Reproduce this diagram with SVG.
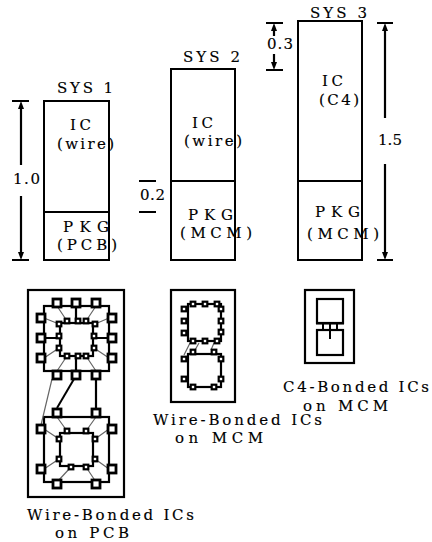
<svg xmlns="http://www.w3.org/2000/svg" xmlns:xlink="http://www.w3.org/1999/xlink" width="432" height="542" viewBox="0 0 432 542">
<style>
text{font-family:"DejaVu Serif","Liberation Serif",serif;font-size:15px;fill:#000;stroke:#000;stroke-width:0.15}
.b{fill:none;stroke:#000;stroke-width:2.2}
.w{fill:none;stroke:#000;stroke-width:2}
.t{fill:none;stroke:#666;stroke-width:1.2}
.k{fill:none;stroke:#000;stroke-width:2.2}
.L{fill:#fff;stroke:#000;stroke-width:2.8}
.S{fill:#fff;stroke:#000;stroke-width:2.2}
</style>
<defs>
<rect id="L" class="L" x="-4" y="-4" width="8" height="8"/>
<rect id="S" class="S" x="-2.300" y="-2.300" width="4.600" height="4.600"/>
</defs>
<g id="sys1">
<rect class="w" x="44" y="101" width="65" height="159"/><path class="w" d="M44 212H109"/>
<text x="57" y="93" textLength="56">SYS 1</text><text x="70" y="130" textLength="21">IC</text><text x="57" y="149" textLength="57">(wire)</text><text x="63" y="232" textLength="46">PKG</text><text x="57" y="250" textLength="60">(PCB)</text>
</g>
<g id="sys2">
<rect class="w" x="171" y="69" width="64" height="191"/><path class="w" d="M171 181H235"/>
<text x="183" y="62" textLength="57">SYS 2</text><text x="192" y="128" textLength="21">IC</text><text x="184" y="146" textLength="58">(wire)</text><text x="188" y="220" textLength="45">PKG</text><text x="180" y="238" textLength="72">(MCM)</text>
</g>
<g id="sys3">
<rect class="w" x="298" y="21" width="64" height="239"/><path class="w" d="M298 181H362"/>
<text x="310" y="18" textLength="57">SYS 3</text><text x="322" y="86" textLength="21">IC</text><text x="319" y="105" textLength="40">(C4)</text><text x="315" y="217" textLength="45">PKG</text><text x="307" y="239" textLength="72">(MCM)</text>
</g>
<g id="connectors">
<path class="k" d="M12 101H29M12 260H29M139 181H156M139 212H156M266 23H283M266 70H283M377 23H393M377 260H393"/>
<path class="k" d="M21 165V108M21 196V253M274 36V30M274 54V63M385 118V30M385 164V253"/>
<path d="M21 101l-3 8h6zM21 260l-3-8h6zM274 23l-3 8h6zM274 70l-3-8h6zM385 23l-3 8h6zM385 260l-3-8h6z" fill="#000"/>
</g>
<g id="dims">
<text x="13" y="184" textLength="27">1.0</text><text x="140" y="200" textLength="25">0.2</text><text x="267" y="49" textLength="26">0.3</text><text x="378" y="145" textLength="24">1.5</text>
</g>
<g id="pcb">
<rect class="b" x="28" y="290" width="96" height="207"/>
<rect class="b" x="44" y="306" width="65" height="65"/><rect class="b" x="60" y="323" width="33" height="33"/>
<rect class="b" x="44" y="417" width="65" height="65"/><rect class="b" x="60" y="433" width="33" height="33"/>
<path class="t" d="M57 306L67 321M96 306L86 321M44 318L59 324M109 318L95 324M44 358L59 348M109 358L94 348M57 371L67 356M96 371L86 356M52 379L41 425"/>
<path class="t" d="M57 417L67 431M96 417L86 431M44 429L59 439M109 429L95 439M44 469L59 459M109 469L95 459M57 482L71 467M96 482L86 467"/>
<path class="k" d="M76 306V320M76 371V357M44 338H58M109 338H94M96 379V408"/>
<path class="w" d="M74 379L57 408"/>
<g id="pcb-large-pads">
<use xlink:href="#L" x="57" y="303"/><use xlink:href="#L" x="76" y="303"/><use xlink:href="#L" x="96" y="303"/>
<use xlink:href="#L" x="41" y="318"/><use xlink:href="#L" x="41" y="338"/><use xlink:href="#L" x="41" y="358"/>
<use xlink:href="#L" x="112" y="318"/><use xlink:href="#L" x="112" y="338"/><use xlink:href="#L" x="112" y="358"/>
<use xlink:href="#L" x="57" y="375"/><use xlink:href="#L" x="76" y="375"/><use xlink:href="#L" x="96" y="375"/>
<use xlink:href="#L" x="57" y="413"/><use xlink:href="#L" x="96" y="413"/>
<use xlink:href="#L" x="41" y="429"/><use xlink:href="#L" x="41" y="469"/>
<use xlink:href="#L" x="112" y="429"/><use xlink:href="#L" x="112" y="469"/>
<use xlink:href="#L" x="57" y="484"/><use xlink:href="#L" x="96" y="484"/>
</g>
<g id="pcb-small-pads">
<use xlink:href="#S" x="67" y="321"/><use xlink:href="#S" x="78" y="321"/><use xlink:href="#S" x="86" y="321"/>
<use xlink:href="#S" x="59" y="324"/><use xlink:href="#S" x="95" y="324"/>
<use xlink:href="#S" x="59" y="336"/><use xlink:href="#S" x="59" y="348"/><use xlink:href="#S" x="94" y="336"/><use xlink:href="#S" x="94" y="348"/>
<use xlink:href="#S" x="67" y="356"/><use xlink:href="#S" x="78" y="356"/><use xlink:href="#S" x="86" y="356"/>
<use xlink:href="#S" x="67" y="431"/><use xlink:href="#S" x="86" y="431"/>
<use xlink:href="#S" x="59" y="439"/><use xlink:href="#S" x="59" y="459"/><use xlink:href="#S" x="95" y="439"/><use xlink:href="#S" x="95" y="459"/>
<use xlink:href="#S" x="71" y="467"/><use xlink:href="#S" x="86" y="467"/>
</g>
<text x="27" y="520" textLength="167">Wire-Bonded ICs</text><text x="55" y="538" textLength="74">on PCB</text>
</g>
<g id="mcm">
<rect class="b" x="171" y="290" width="64" height="112"/>
<rect class="b" x="188" y="304" width="33" height="37"/><rect class="b" x="188" y="354" width="33" height="33"/>
<path class="t" d="M190 343L184 355M199 343L195 350M214 343L211 350"/>
<use xlink:href="#S" x="193" y="304"/><use xlink:href="#S" x="205" y="304"/><use xlink:href="#S" x="217" y="304"/>
<use xlink:href="#S" x="184" y="309"/><use xlink:href="#S" x="184" y="321"/><use xlink:href="#S" x="184" y="333"/>
<use xlink:href="#S" x="221" y="309"/><use xlink:href="#S" x="221" y="321"/><use xlink:href="#S" x="221" y="332"/>
<use xlink:href="#S" x="193" y="341"/><use xlink:href="#S" x="205" y="341"/><use xlink:href="#S" x="217" y="341"/>
<use xlink:href="#S" x="193" y="352"/><use xlink:href="#S" x="214" y="352"/>
<use xlink:href="#S" x="184" y="359"/><use xlink:href="#S" x="184" y="379"/>
<use xlink:href="#S" x="221" y="359"/><use xlink:href="#S" x="221" y="379"/>
<use xlink:href="#S" x="193" y="387"/><use xlink:href="#S" x="214" y="387"/>
<text x="153" y="425" textLength="169">Wire-Bonded ICs</text><text x="175" y="443" textLength="88">on MCM</text>
</g>
<g id="c4">
<rect class="b" x="305" y="290" width="49" height="73"/>
<rect class="b" x="317" y="299" width="26" height="24"/><rect class="b" x="317" y="330" width="26" height="25"/>
<path class="w" d="M323 323V331M330 323V339M337 323V331"/>
<path class="k" d="M316 323.500H344M316 330H344"/>
<text x="283" y="392" textLength="146">C4-Bonded ICs</text><text x="303" y="411" textLength="85">on MCM</text>
</g>
</svg>
